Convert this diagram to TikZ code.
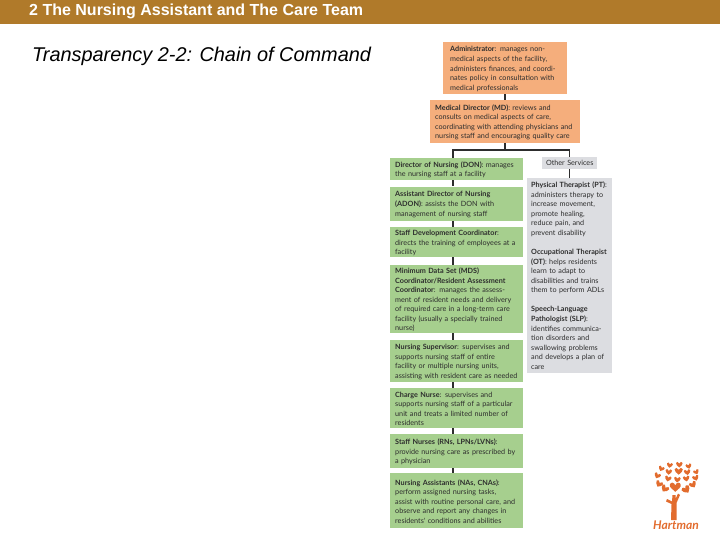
\documentclass[tikz,border=0pt]{standalone}
\usepackage{xcolor}
\usepackage{fontspec}
\setmainfont{Liberation Sans}
\newfontfamily\boxfont{Lato}
\usepackage{tikz}
\usetikzlibrary{positioning, calc}
\definecolor{hdrbrown}{RGB}{176,122,42}
\definecolor{myorange}{RGB}{245,174,124}
\definecolor{mygreen}{RGB}{166,207,142}
\definecolor{mygrey}{RGB}{220,221,225}
\definecolor{mydark}{RGB}{45,45,45}
\definecolor{logoorange}{RGB}{226,108,46}
\tikzset{
  orgbox/.style={rectangle, anchor=north west, align=left, inner xsep=5pt, inner ysep=0pt,
    text=mydark, font=\boxfont\fontsize{7.22}{9.55}\selectfont},
  orangebox/.style={orgbox, fill=myorange, execute at begin node=\rule{0pt}{7pt}},
  greenbox/.style={orgbox, fill=mygreen, text width=123pt, execute at begin node=\rule{0pt}{7pt}},
  greybox/.style={orgbox, fill=mygrey, inner xsep=4pt},
  line/.style={line width=1.2pt, color=mydark},
  heart/.pic={
    \fill[logoorange] (0,5) .. controls (-3,2) and (-7,0) .. (-6,-3)
      .. controls (-5.5,-6) and (-1,-6) .. (0,-2)
      .. controls (1,-6) and (5.5,-6) .. (6,-3)
      .. controls (7,0) and (3,2) .. (0,5) -- cycle;
  }
}

\begin{document}
\begin{tikzpicture}[x=1pt, y=-1pt]
  \useasboundingbox (0,0) rectangle (720,540);

  % header
  \fill[hdrbrown] (0,0) rectangle (720,24.5);
  \node[anchor=west, inner sep=0pt, text=white, font=\bfseries\fontsize{16}{17}\selectfont] (header) at (29,11.5) {2 The Nursing Assistant and The Care Team};
  \node[anchor=west, inner sep=0pt, text=black, font=\itshape\fontsize{19.9}{22}\selectfont] (title) at (32,56) {Transparency 2-2: Chain of Command};

  % top of the chain
  \node[orangebox, inner xsep=7pt, text width=110pt, minimum height=52pt] (admin) at (443,42)
    {\textbf{Administrator}: manages non-\\medical aspects of the facility,\\administers finances, and coordi-\\nates policy in consultation with\\medical professionals};
  \node[orangebox, text width=140pt, minimum height=43pt] (md) at (430,100)
    {\textbf{Medical Director (MD)}: reviews and\\consults on medical aspects of care,\\coordinating with attending physicians and\\nursing staff and encouraging quality care};

  % nursing column
  \node[greenbox, minimum height=22pt] (don) at (390,158)
    {\textbf{Director of Nursing (DON)}: manages\\the nursing staff at a facility};
  \node[greenbox, minimum height=34pt] (adon) at (390,186.5)
    {\textbf{Assistant Director of Nursing}\\\textbf{(ADON)}: assists the DON with\\management of nursing staff};
  \node[greenbox, minimum height=30pt] (sdc) at (390,227)
    {\textbf{Staff Development Coordinator}:\\directs the training of employees at a\\facility};
  \node[greenbox, minimum height=68pt] (mds) at (390,265)
    {\textbf{Minimum Data Set (MDS)}\\\textbf{Coordinator/Resident Assessment}\\\textbf{Coordinator}: manages the assess-\\ment of resident needs and delivery\\of required care in a long-term care\\facility (usually a specially trained\\nurse)};
  \node[greenbox, minimum height=42pt] (sup) at (390,340)
    {\textbf{Nursing Supervisor}: supervises and\\supports nursing staff of entire\\facility or multiple nursing units,\\assisting with resident care as needed};
  \node[greenbox, minimum height=40pt] (charge) at (390,388)
    {\textbf{Charge Nurse}: supervises and\\supports nursing staff of a particular\\unit and treats a limited number of\\residents};
  \node[greenbox, minimum height=34pt] (staff) at (390,434)
    {\textbf{Staff Nurses (RNs, LPNs/LVNs)}:\\provide nursing care as prescribed by\\a physician};
  \node[greenbox, minimum height=55pt] (aides) at (390,473)
    {\textbf{Nursing Assistants (NAs, CNAs)}:\\perform assigned nursing tasks,\\assist with routine personal care, and\\observe and report any changes in\\residents' conditions and abilities};

  % other services
  \node[greybox, inner xsep=0pt, text width=55pt, minimum height=12pt, align=center] (other) at (542,157) {Other Services};
  \node[greybox, text width=77pt, minimum height=195pt] (therapy) at (527,178)
    {\textbf{Physical Therapist (PT)}:\\administers therapy to\\increase movement,\\promote healing,\\reduce pain, and\\prevent disability\\[9.55pt]
     \textbf{Occupational Therapist}\\\textbf{(OT)}: helps residents\\learn to adapt to\\disabilities and trains\\them to perform ADLs\\[9.55pt]
     \textbf{Speech-Language}\\\textbf{Pathologist (SLP)}:\\identifies communica-\\tion disorders and\\swallowing problems\\and develops a plan of\\care};

  % connectors
  \coordinate (branch) at (505,150);
  \coordinate (spine) at (453,150);
  \coordinate (sidebar) at (569.5,150);
  \draw[line] (admin.south -| branch) -- (md.north -| branch);
  \draw[line] (md.south -| branch) -- (branch);
  \draw[line] (don.north -| spine) -- (spine) -- (sidebar) -- (other.north -| sidebar);
  \draw[line] (other.south -| sidebar) -- (therapy.north -| sidebar);
  \foreach \a/\b in {don/adon, adon/sdc, sdc/mds, mds/sup, sup/charge, charge/staff, staff/aides} {
    \draw[line] (\a.south -| spine) -- (\b.north -| spine);
  }

  % logo
  \fill[logoorange] (671,520) -- (671.5,504) -- (666,501.5) -- (667,499) -- (672,501.5) -- (672.5,495) -- (675.5,495) -- (675.5,499) -- (678,493.5) -- (680,495) -- (676.5,503) -- (676.5,520) -- cycle;
  \foreach \hx/\hy/\hs/\hr in {
    661.3/468.7/.5/-25, 669.7/465.3/.5/-10, 679.3/464.7/.55/0, 688.7/466.3/.5/15, 696.3/472/.48/25,
    657.3/475.7/.55/-25, 668.7/472/.55/-5, 678.7/471.3/.68/0, 687.3/472.3/.55/10, 695.7/478/.55/20,
    659/484/.62/-30, 668/478.7/.55/-15, 677.3/479.7/.55/-5, 686.3/478.7/.55/10, 693/484.7/.62/30,
    664.7/488.7/.68/-35, 675.3/487.3/.9/0, 686.3/489.7/.72/35} {
    \pic[scale=\hs, rotate=\hr] at (\hx,\hy) {heart};
  }
  \node[inner sep=0pt, text=logoorange, font=\boxfont\bfseries\itshape\fontsize{12}{12}\selectfont] (logo) at (676,525.5) {Hartman};
\end{tikzpicture}
\end{document}
